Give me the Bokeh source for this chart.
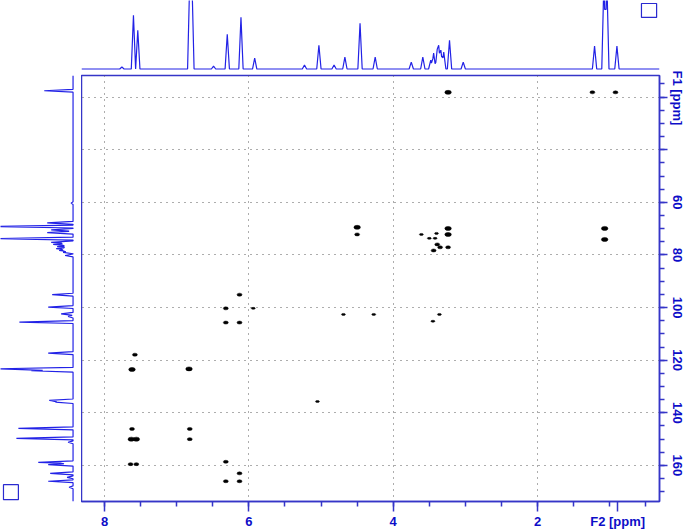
from bokeh.plotting import figure
from bokeh.layouts import gridplot
from bokeh.models import Range1d, FixedTicker, ColumnDataSource
from bokeh.embed import file_html
from bokeh.resources import INLINE

# ---------------- data ----------------
# F2 (1H) projection: peak positions (ppm) and heights (px above baseline)
f2_peak_ppm = [7.76, 7.60, 7.54, 6.82, 6.79, 6.49, 6.30, 6.11, 5.92, 5.23, 5.03, 4.82,
               4.67, 4.46, 4.25, 3.75, 3.59, 3.48, 3.44, 3.39, 3.37, 3.34, 3.30, 3.22,
               3.03, 1.21, 1.08, 1.04, 0.90]
f2_peak_height = [2, 54, 39, 90, 90, 3, 35, 52, 11, 4, 24, 4,
                  12, 46, 12, 7, 12, 9, 16, 20, 24, 19, 17, 29,
                  7, 23, 90, 90, 23]

# F1 (13C) projection: peak positions (ppm) and heights (px)
f1_peak_ppm = [17.6, 60.3, 67.8, 69.2, 70.5, 71.5, 73.8, 75.2, 76.0, 76.8, 77.6, 78.3,
               79.0, 80.2, 95.1, 99.8, 102.4, 103.4, 105.5, 117.3, 123.3, 124.0,
               135.3, 135.9, 145.9, 149.7, 151.2, 158.8, 159.7, 163.0, 164.5, 166.0, 168.3]
f1_peak_height = [29, 2, 26, 80, 22, 26, 80, 22, 20, 16, 17, 14,
                  10, 8, 21, 25, 12, 5, 54, 25, 80, 42,
                  24, 18, 55, 57, 5, 35, 25, 23, 6, 25, 4]

# HMBC cross peaks: F2 (ppm), F1 (ppm), relative intensity class
cross_f2 = [3.24, 1.24, 0.92,
            4.50, 4.50,
            3.24, 3.24, 3.61, 3.50, 3.40, 3.42, 3.39, 3.35, 3.24, 3.44,
            1.07, 1.07,
            6.13, 6.32, 6.32, 6.13, 5.94,
            4.69, 4.27, 3.36, 3.45,
            7.58, 7.62, 6.83, 5.05,
            7.62, 7.63, 7.56, 6.82, 6.82,
            7.64, 7.56, 6.32, 6.13, 6.32, 6.13]
cross_f1 = [18.2, 18.2, 18.2,
            69.5, 72.2,
            69.9, 72.2, 72.2, 73.7, 71.8, 73.7, 76.0, 77.1, 77.1, 78.3,
            69.9, 74.1,
            95.1, 100.3, 105.7, 105.7, 100.3,
            102.6, 102.6, 102.6, 105.2,
            117.9, 123.5, 123.3, 135.7,
            146.1, 150.0, 150.0, 146.1, 150.0,
            159.5, 159.5, 158.6, 163.0, 166.0, 166.0]
cross_int = [3, 2, 2,
             3, 2,
             3, 3, 1, 1, 1, 1, 2, 2, 2, 2,
             3, 3,
             2, 2, 2, 2, 1,
             1, 1, 1, 1,
             2, 3, 3, 1,
             2, 3, 3, 2, 2,
             2, 2, 2, 2, 2, 2]

x_major = [8, 6, 4, 2]
x_title_pos = 0.89
x_minor = [8.0, 7.5, 7.0, 6.5, 6.0, 5.5, 5.0, 4.5, 4.0, 3.5, 3.0, 2.5, 2.0, 1.5, 1.0, 0.5]
y_major = [20, 40, 60, 80, 100, 120, 140, 160]
y_minor = [15, 20, 25, 30, 35, 40, 45, 50, 55, 60, 65, 70, 75, 80, 85, 90, 95, 100,
           105, 110, 115, 120, 125, 130, 135, 140, 145, 150, 155, 160, 165, 170]

# ---------------- style ----------------
AX = "#3535C8"
LAB = "#0D0DC8"
TRACE = "#2222E6"
FONT = "Liberation Sans"

X_RANGE = (8.32, 0.31)
Y_RANGE = (173.7, 11.8)


def envelope(pos, hts, lo, hi, half):
    """piecewise-linear stick spectrum: max of narrow triangles around each peak"""
    pts = {lo, hi}
    for p in pos:
        pts.update([p - half, p, p + half])
    xs = sorted(pts, reverse=True)
    ys = []
    for x in xs:
        best = 0.0
        for p, h in zip(pos, hts):
            d = abs(x - p)
            if d < half:
                best = max(best, h * (1 - d / half))
        ys.append(best)
    return xs, ys


# ---------------- main 2D plot ----------------
main = figure(frame_width=578, frame_height=426,
              x_range=Range1d(*X_RANGE), y_range=Range1d(*Y_RANGE),
              y_axis_location="right", output_backend="svg", toolbar_location=None,
              min_border_left=0, min_border_right=30, min_border_top=5, min_border_bottom=28)
main.background_fill_color = "white"
main.border_fill_color = "white"
main.outline_line_color = AX
main.outline_line_width = 1.5

xa = main.xaxis[0]
xa.ticker = FixedTicker(ticks=x_major + [x_title_pos], minor_ticks=x_minor)
xa.major_label_overrides = {x_title_pos: "F2 [ppm]"}
xa.major_tick_out = 10
xa.minor_tick_out = 5
xa.major_label_standoff = 2

ya = main.yaxis[0]
ya.ticker = FixedTicker(ticks=y_major, minor_ticks=y_minor)
ya.major_tick_out = 8
ya.minor_tick_out = 5
ya.major_label_standoff = 2
ya.major_label_orientation = "vertical"
ya.major_label_overrides = {20: "F1 [ppm]", 40: ""}

for ax in (xa, ya):
    ax.axis_line_color = AX
    ax.axis_line_width = 1.5
    ax.major_tick_line_color = AX
    ax.minor_tick_line_color = AX
    ax.major_tick_line_width = 1.5
    ax.minor_tick_line_width = 1.5
    ax.major_tick_in = 0
    ax.minor_tick_in = 0
    ax.major_label_text_color = LAB
    ax.major_label_text_font = FONT
    ax.major_label_text_font_style = "bold"
    ax.major_label_text_font_size = "13px"

main.xgrid[0].ticker = FixedTicker(ticks=x_major)
for g in (main.xgrid[0], main.ygrid[0]):
    g.grid_line_color = "#5a5a5a"
    g.grid_line_dash = "1 5"
    g.grid_line_width = 1

wmap = {1: 4, 2: 5, 3: 6.5}
hmap = {1: 2, 2: 3, 3: 4}
src = ColumnDataSource(dict(f2=cross_f2, f1=cross_f1,
                            w=[wmap[i] for i in cross_int],
                            h=[hmap[i] for i in cross_int]))
main.ellipse(x="f2", y="f1", width="w", height="h", width_units="screen",
             height_units="screen", source=src, fill_color="black", line_color="black",
             line_width=0.5)

# ---------------- top projection (F2) ----------------
top = figure(frame_width=578, frame_height=70, x_range=main.x_range,
             y_range=Range1d(-1.5, 69), x_axis_location=None, y_axis_location=None,
             output_backend="svg", toolbar_location=None,
             min_border_left=0, min_border_right=30, min_border_top=0, min_border_bottom=0)
top.outline_line_color = None
top.grid.visible = False
tx, ty = envelope(f2_peak_ppm, f2_peak_height, X_RANGE[1], X_RANGE[0], 0.03)
top.line(tx, ty, line_color=TRACE, line_width=1.2)
top.quad(left=0.56, right=0.35, top=66, bottom=52, fill_color=None,
         line_color="#2a2ad0", line_width=1.2)

# ---------------- left projection (F1) ----------------
left = figure(frame_width=81, frame_height=426, x_range=Range1d(73, -8.5),
              y_range=main.y_range, x_axis_location=None, y_axis_location=None,
              output_backend="svg", toolbar_location=None,
              min_border_left=0, min_border_right=0, min_border_top=5, min_border_bottom=28)
left.outline_line_color = None
left.grid.visible = False
ly, lx = envelope(f1_peak_ppm, f1_peak_height, Y_RANGE[1], Y_RANGE[0], 0.55)
left.line(lx, ly, line_color=TRACE, line_width=1.2)
left.quad(left=70, right=55, top=167.3, bottom=173.0, fill_color=None,
          line_color="#2a2ad0", line_width=1.2)

grid = gridplot([[None, top], [left, main]], toolbar_location=None)

open("out.html", "w").write(file_html(grid, INLINE))
